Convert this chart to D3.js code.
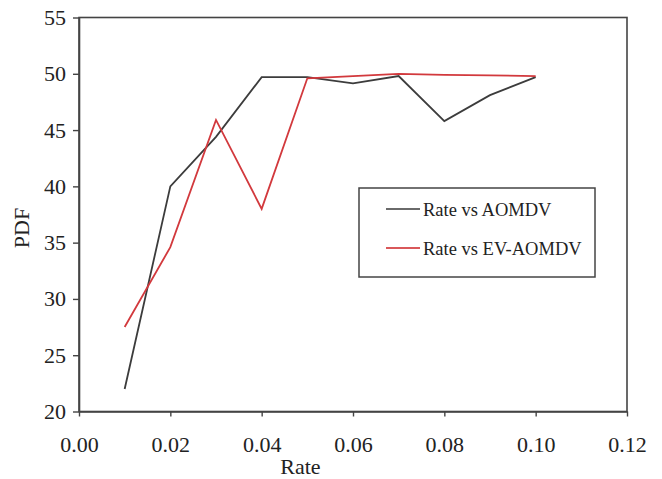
<!DOCTYPE html>
<html>
<head>
<meta charset="utf-8">
<script src="https://cdn.jsdelivr.net/npm/d3@7"></script>
<style>
	body { margin: 0; background: #fff; }
	svg text { font-family: "Liberation Serif", "Times New Roman", serif; fill: #222; }
</style>
</head>
<body>
<svg id="svg1" width="662" height="479"></svg>
<script>
// data
var rates = [0.01, 0.02, 0.03, 0.04, 0.05, 0.06, 0.07, 0.08, 0.09, 0.10];
var aomdv = [22.0, 40.0, 44.4, 49.7, 49.7, 49.15, 49.8, 45.8, 48.1, 49.7];
var evAomdv = [27.5, 34.6, 45.9, 38.0, 49.6, 49.8, 50.0, 49.9, 49.85, 49.8];
var xTicks = [0, 0.02, 0.04, 0.06, 0.08, 0.10, 0.12];
var yTicks = [20, 25, 30, 35, 40, 45, 50, 55];
var seriesNames = ["Rate vs AOMDV", "Rate vs EV-AOMDV"];
var seriesColors = ["#3c3c3c", "#d2393d"];

var svg1 = d3.select("#svg1"),
	margin = {top: 17.5, right: 35, bottom: 67.5, left: 79},
	width = +svg1.attr("width") - margin.left - margin.right,
	height = +svg1.attr("height") - margin.top - margin.bottom,
	g = svg1.append("g").attr("transform", "translate(" + margin.left + "," + margin.top + ")");

var x = d3.scaleLinear().domain([0, 0.12]).range([0, width]);
var y = d3.scaleLinear().domain([20, 55]).range([height, 0]);

// frame
g.append("rect")
	.attr("width", width)
	.attr("height", height)
	.attr("fill", "none")
	.attr("stroke", "#444")
	.attr("stroke-width", 1.6);

// x axis
var xAxis = g.append("g")
	.attr("transform", "translate(0," + height + ")")
	.call(d3.axisBottom(x).tickValues(xTicks).tickFormat(d3.format(".2f")).tickSize(5).tickSizeOuter(0).tickPadding(20));
xAxis.select(".domain").attr("stroke", "#444").attr("stroke-width", 1.6);
xAxis.selectAll(".tick line").attr("stroke", "#444").attr("stroke-width", 1.4);
xAxis.selectAll("text").attr("font-size", 22).attr("font-family", "Liberation Serif").attr("fill", "#222");

// y axis
var yAxis = g.append("g")
	.call(d3.axisLeft(y).tickValues(yTicks).tickSize(6).tickSizeOuter(0).tickPadding(7));
yAxis.select(".domain").attr("stroke", "#444").attr("stroke-width", 1.6);
yAxis.selectAll(".tick line").attr("stroke", "#444").attr("stroke-width", 1.4);
yAxis.selectAll("text").attr("font-size", 22).attr("font-family", "Liberation Serif").attr("fill", "#222");

// axis titles
svg1.append("text")
	.attr("x", margin.left + x(0.0485))
	.attr("y", 474)
	.attr("text-anchor", "middle")
	.attr("font-size", 22)
	.text("Rate");

svg1.append("text")
	.attr("transform", "translate(29," + (margin.top + y(36.3)) + ") rotate(-90)")
	.attr("text-anchor", "middle")
	.attr("font-size", 22)
	.text("PDF");

// lines
var line = d3.line()
	.x(function(d) { return x(d[0]); })
	.y(function(d) { return y(d[1]); });

[aomdv, evAomdv].forEach(function(vals, i) {
	g.append("path")
		.datum(rates.map(function(r, j) { return [r, vals[j]]; }))
		.attr("fill", "none")
		.attr("stroke", seriesColors[i])
		.attr("stroke-width", 1.8)
		.attr("stroke-linejoin", "miter")
		.attr("d", line);
});

// legend
var legend = svg1.append("g").attr("transform", "translate(359,188)");
legend.append("rect")
	.attr("width", 236)
	.attr("height", 89)
	.attr("fill", "#fff")
	.attr("stroke", "#444")
	.attr("stroke-width", 1.5);

var items = legend.selectAll(".item")
	.data(seriesNames)
	.enter().append("g")
	.attr("class", "item")
	.attr("transform", function(d, i) { return "translate(0," + (21 + i * 39) + ")"; });

items.append("line")
	.attr("x1", 27).attr("x2", 61)
	.attr("stroke", function(d, i) { return i ? "#d9585a" : "#6a6a6a"; })
	.attr("stroke-width", 2.2);

items.append("text")
	.attr("x", 64)
	.attr("y", 6.5)
	.attr("font-size", 18.5)
	.text(function(d) { return d; });
</script>
</body>
</html>
